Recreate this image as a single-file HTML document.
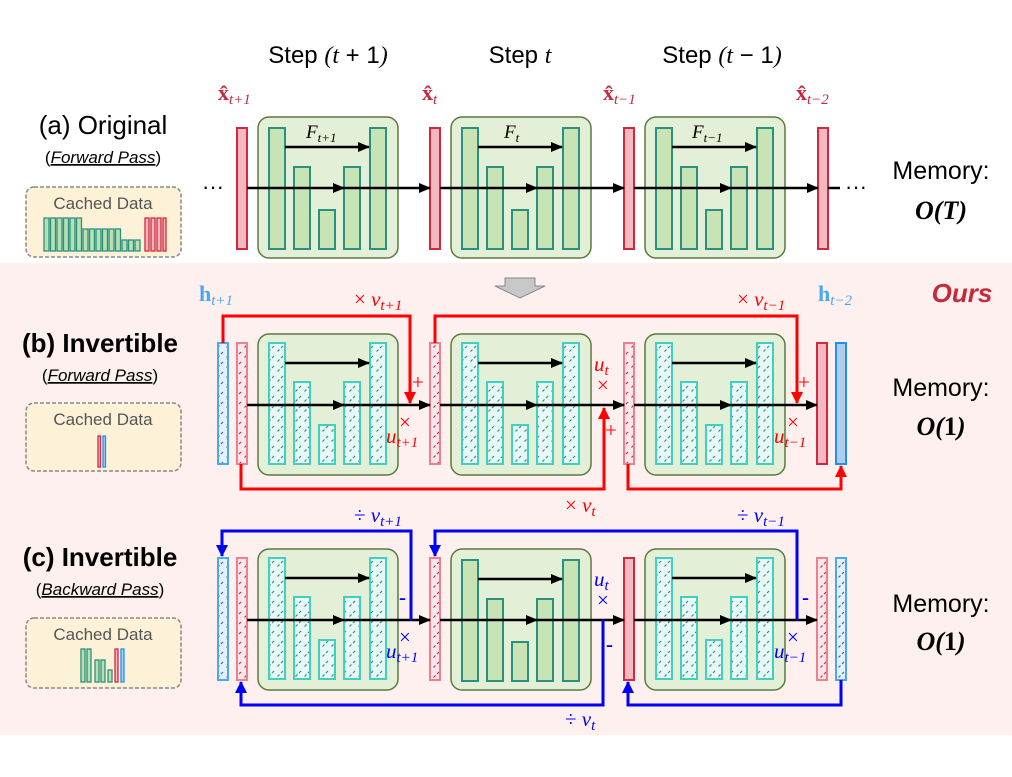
<!DOCTYPE html>
<html><head><meta charset="utf-8"><style>
html,body{margin:0;padding:0;background:#fff}
svg{display:block}
.s{font-family:"Liberation Sans",sans-serif}
.m{font-family:"Liberation Serif","DejaVu Serif",serif;font-style:italic}
</style></head><body>
<svg width="1012" height="777" viewBox="0 0 1012 777" xmlns="http://www.w3.org/2000/svg">
<defs>
<pattern id="hT" width="9" height="10" patternUnits="userSpaceOnUse"><rect width="9" height="10" fill="#e8f8f6"/><path d="M1.5,7.5 L3.5,5.5 M5,4 L7,2" stroke="#2a9080" stroke-width="1.2"/></pattern>
<pattern id="hR" width="9" height="10" patternUnits="userSpaceOnUse"><rect width="9" height="10" fill="#fbe8ec"/><path d="M1.5,7.5 L3.5,5.5 M5,4 L7,2" stroke="#d02840" stroke-width="1.2"/></pattern>
<pattern id="hB" width="9" height="10" patternUnits="userSpaceOnUse"><rect width="9" height="10" fill="#e8f0fb"/><path d="M1.5,7.5 L3.5,5.5 M5,4 L7,2" stroke="#1a70c0" stroke-width="1.2"/></pattern>
<marker id="ak" markerWidth="12" markerHeight="10" refX="11" refY="5" orient="auto" markerUnits="userSpaceOnUse"><path d="M0,0 L12,5 L0,10 z" fill="#000"/></marker>
<marker id="ar" markerWidth="12" markerHeight="12" refX="11" refY="6" orient="auto" markerUnits="userSpaceOnUse"><path d="M0,0 L12,6 L0,12 z" fill="#ff0000"/></marker>
<marker id="ab" markerWidth="12" markerHeight="12" refX="11" refY="6" orient="auto" markerUnits="userSpaceOnUse"><path d="M0,0 L12,6 L0,12 z" fill="#0000ff"/></marker>
<g id="blkS">
<rect x="0" y="0" width="140" height="141" rx="11" fill="#e3efd6" stroke="#5a7a3e" stroke-width="1.5"/>
<g fill="#c9e4b4" stroke="#2a9080" stroke-width="2">
<rect x="11" y="11" width="16" height="121"/><rect x="36" y="50" width="16" height="82"/><rect x="61" y="93" width="16" height="39"/><rect x="86" y="50" width="16" height="82"/><rect x="112" y="11" width="16" height="121"/>
</g>
<line x1="27" y1="30" x2="111" y2="30" stroke="#000" stroke-width="2.5" marker-end="url(#ak)"/>
</g>
<g id="blkH">
<rect x="0" y="0" width="140" height="141" rx="11" fill="#e3efd6" stroke="#5a7a3e" stroke-width="1.5"/>
<g fill="url(#hT)" stroke="#40d0c0" stroke-width="2">
<rect x="11" y="9" width="16" height="121"/><rect x="36" y="48" width="16" height="82"/><rect x="61" y="91" width="16" height="39"/><rect x="86" y="48" width="16" height="82"/><rect x="112" y="9" width="16" height="121"/>
</g>
<line x1="27" y1="29" x2="111" y2="29" stroke="#000" stroke-width="2.5" marker-end="url(#ak)"/>
</g>
</defs>

<rect x="0" y="263" width="1012" height="472" fill="#fdf0ee"/>

<g class="s" font-size="24" fill="#000" text-anchor="middle">
<text x="328" y="63">Step <tspan class="m">(t</tspan> + 1<tspan class="m">)</tspan></text>
<text x="520" y="63">Step <tspan class="m">t</tspan></text>
<text x="722" y="63">Step <tspan class="m">(t</tspan> − 1<tspan class="m">)</tspan></text>
</g>
<g font-family="Liberation Serif,serif" fill="#c8283c" font-size="22" font-weight="bold">
<text x="218" y="100">x̂<tspan class="m" font-weight="normal" font-size="15" dy="4">t+1</tspan></text>
<text x="422" y="100">x̂<tspan class="m" font-weight="normal" font-size="15" dy="4">t</tspan></text>
<text x="603" y="100">x̂<tspan class="m" font-weight="normal" font-size="15" dy="4">t−1</tspan></text>
<text x="796" y="100">x̂<tspan class="m" font-weight="normal" font-size="15" dy="4">t−2</tspan></text>
</g>

<g class="s" fill="#000" text-anchor="middle">
<text x="103" y="134" font-size="26">(a) Original</text>
<text x="103" y="163" font-size="17">(<tspan font-style="italic" text-decoration="underline">Forward Pass</tspan>)</text>
<text x="100" y="352" font-size="26" font-weight="bold">(b) Invertible</text>
<text x="100" y="381" font-size="17">(<tspan font-style="italic" text-decoration="underline">Forward Pass</tspan>)</text>
<text x="100" y="566" font-size="26" font-weight="bold">(c) Invertible</text>
<text x="100" y="595" font-size="17">(<tspan font-style="italic" text-decoration="underline">Backward Pass</tspan>)</text>
</g>

<g fill="#fdf2d8" stroke="#888" stroke-width="1.5" stroke-dasharray="4,2">
<rect x="26" y="187" width="155" height="70" rx="8"/>
<rect x="26" y="403" width="155" height="68" rx="8"/>
<rect x="26" y="618" width="155" height="70" rx="8"/>
</g>
<g class="s" font-size="17" fill="#555" text-anchor="middle">
<text x="103" y="209">Cached Data</text>
<text x="103" y="425">Cached Data</text>
<text x="103" y="640">Cached Data</text>
</g>
<g fill="#b8e0b0" stroke="#2a9080" stroke-width="1.3">
<rect x="44" y="218" width="5" height="33"/><rect x="50.5" y="218" width="5" height="33"/><rect x="57" y="218" width="5" height="33"/><rect x="63.5" y="218" width="5" height="33"/><rect x="70" y="218" width="5" height="33"/><rect x="76.5" y="218" width="5" height="33"/>
<rect x="83" y="229" width="5" height="22"/><rect x="89.5" y="229" width="5" height="22"/><rect x="96" y="229" width="5" height="22"/><rect x="102.5" y="229" width="5" height="22"/><rect x="109" y="229" width="5" height="22"/><rect x="115.5" y="229" width="5" height="22"/>
<rect x="122" y="240" width="5" height="11"/><rect x="128.5" y="240" width="5" height="11"/><rect x="135" y="240" width="5" height="11"/>
<rect x="81" y="649" width="4" height="33"/><rect x="87" y="649" width="4" height="33"/><rect x="95" y="660" width="4" height="22"/><rect x="101" y="660" width="4" height="22"/><rect x="108" y="670" width="4" height="12"/>
</g>
<g fill="#f4b8c0" stroke="#d0283c" stroke-width="1.3">
<rect x="145" y="218" width="4" height="33"/><rect x="151" y="218" width="4" height="33"/><rect x="157" y="218" width="4" height="33"/><rect x="163" y="218" width="3" height="33"/>
<rect x="98" y="436" width="2.5" height="31"/><rect x="115" y="649" width="3" height="33"/>
</g>
<g fill="#b0ccee" stroke="#2090f0" stroke-width="1.3">
<rect x="103" y="436" width="2.5" height="31"/><rect x="121" y="649" width="3" height="33"/>
</g>

<use href="#blkS" x="258" y="117"/>
<use href="#blkS" x="451" y="117"/>
<use href="#blkS" x="645" y="117"/>
<g fill="#f4b8c0" stroke="#d0283c" stroke-width="2">
<rect x="237" y="128" width="10" height="121"/><rect x="430" y="128" width="10" height="121"/><rect x="624" y="128" width="10" height="121"/><rect x="818" y="128" width="10" height="121"/>
</g>
<g stroke="#000" stroke-width="2.5" marker-end="url(#ak)">
<line x1="247" y1="188" x2="344" y2="188"/><line x1="344" y1="188" x2="430" y2="188"/>
<line x1="440" y1="188" x2="537" y2="188"/><line x1="537" y1="188" x2="624" y2="188"/>
<line x1="634" y1="188" x2="731" y2="188"/><line x1="731" y1="188" x2="818" y2="188"/>
</g>
<line x1="828" y1="188" x2="840" y2="188" stroke="#000" stroke-width="2.5"/>
<g class="s" font-size="22"><text x="202" y="194">···</text><text x="845" y="194">···</text></g>
<g class="m" font-size="19" fill="#000">
<text x="306" y="138">F<tspan font-size="13" dy="4">t+1</tspan></text>
<text x="504" y="138">F<tspan font-size="13" dy="4">t</tspan></text>
<text x="692" y="138">F<tspan font-size="13" dy="4">t−1</tspan></text>
</g>

<g class="s" font-size="25" fill="#000" text-anchor="middle">
<text x="941" y="179">Memory:</text>
<text x="941" y="396">Memory:</text>
<text x="941" y="612">Memory:</text>
</g>
<g font-family="Liberation Serif,serif" font-size="26" font-weight="bold" font-style="italic" fill="#000" text-anchor="middle">
<text x="941" y="219">O(T)</text>
<text x="941" y="435">O(<tspan font-style="normal">1</tspan>)</text>
<text x="941" y="650">O(<tspan font-style="normal">1</tspan>)</text>
</g>
<text x="962" y="302" class="s" font-size="26" font-weight="bold" font-style="italic" fill="#c8283c" text-anchor="middle">Ours</text>

<path d="M505,278 H535 V286 H545 L520,298 L495,286 H505 Z" fill="#c8c8c8" stroke="#888" stroke-width="1"/>

<use href="#blkH" x="258" y="334"/>
<use href="#blkH" x="451" y="334"/>
<use href="#blkH" x="645" y="334"/>
<rect x="218" y="343" width="10" height="121" fill="url(#hB)" stroke="#4aa8f0" stroke-width="2"/>
<g fill="url(#hR)" stroke="#ee7f8f" stroke-width="2">
<rect x="237" y="343" width="10" height="121"/><rect x="430" y="343" width="10" height="121"/><rect x="624" y="343" width="10" height="121"/>
</g>
<rect x="817" y="343" width="10" height="121" fill="#f4b8c0" stroke="#d0283c" stroke-width="2"/>
<rect x="836" y="343" width="10" height="121" fill="#b0ccee" stroke="#2090f0" stroke-width="2"/>
<g stroke="#000" stroke-width="2.5" marker-end="url(#ak)">
<line x1="247" y1="405" x2="344" y2="405"/><line x1="344" y1="405" x2="430" y2="405"/>
<line x1="440" y1="405" x2="537" y2="405"/><line x1="537" y1="405" x2="624" y2="405"/>
<line x1="634" y1="405" x2="731" y2="405"/><line x1="731" y1="405" x2="817" y2="405"/>
</g>
<g fill="none" stroke="#ff0000" stroke-width="3" marker-end="url(#ar)">
<path d="M223,343 V316 H410 V403"/>
<path d="M435,343 V316 H797 V403"/>
<path d="M241,464 V489 H604 V408"/>
<path d="M628,464 V489 H841 V466"/>
</g>
<g font-family="Liberation Serif,serif" fill="#4aa8f0" font-size="22" font-weight="bold">
<text x="199" y="301">h<tspan class="m" font-weight="normal" font-size="15" dy="4">t+1</tspan></text>
<text x="818" y="301">h<tspan class="m" font-weight="normal" font-size="15" dy="4">t−2</tspan></text>
</g>
<g class="m" fill="#ff0000" font-size="21">
<text x="354" y="306"><tspan font-style="normal">×</tspan> v<tspan font-size="15" dy="4">t+1</tspan></text>
<text x="737" y="306"><tspan font-style="normal">×</tspan> v<tspan font-size="15" dy="4">t−1</tspan></text>
<text x="565" y="512"><tspan font-style="normal">×</tspan> v<tspan font-size="15" dy="4">t</tspan></text>
<text x="412" y="389" font-style="normal">+</text>
<text x="399" y="429" font-style="normal">×</text>
<text x="386" y="443">u<tspan font-size="15" dy="4">t+1</tspan></text>
<text x="594" y="371">u<tspan font-size="15" dy="4">t</tspan></text>
<text x="597" y="392" font-style="normal">×</text>
<text x="605" y="437" font-style="normal">+</text>
<text x="798" y="389" font-style="normal">+</text>
<text x="787" y="429" font-style="normal">×</text>
<text x="774" y="443">u<tspan font-size="15" dy="4">t−1</tspan></text>
</g>

<use href="#blkH" x="258" y="549"/>
<use href="#blkS" x="451" y="549"/>
<use href="#blkH" x="645" y="549"/>
<rect x="218" y="558" width="10" height="122" fill="url(#hB)" stroke="#4aa8f0" stroke-width="2"/>
<g fill="url(#hR)" stroke="#ee7f8f" stroke-width="2">
<rect x="237" y="558" width="10" height="122"/><rect x="430" y="558" width="10" height="122"/><rect x="817" y="558" width="10" height="122"/>
</g>
<rect x="624" y="558" width="10" height="122" fill="#f4b8c0" stroke="#d0283c" stroke-width="2"/>
<rect x="836" y="558" width="10" height="122" fill="url(#hB)" stroke="#4aa8f0" stroke-width="2"/>
<g stroke="#000" stroke-width="2.5" marker-end="url(#ak)">
<line x1="247" y1="620" x2="344" y2="620"/><line x1="344" y1="620" x2="430" y2="620"/>
<line x1="440" y1="620" x2="537" y2="620"/><line x1="537" y1="620" x2="624" y2="620"/>
<line x1="634" y1="620" x2="731" y2="620"/><line x1="731" y1="620" x2="817" y2="620"/>
</g>
<g fill="none" stroke="#0000ff" stroke-width="3" marker-end="url(#ab)">
<path d="M411,620 V531 H222 V556"/>
<path d="M797,620 V531 H435 V556"/>
<path d="M603,620 V705 H241 V682"/>
<path d="M841,680 V705 H628 V682"/>
</g>
<g class="m" fill="#0000ff" font-size="21">
<text x="354" y="522"><tspan font-style="normal">÷</tspan> v<tspan font-size="15" dy="4">t+1</tspan></text>
<text x="737" y="522"><tspan font-style="normal">÷</tspan> v<tspan font-size="15" dy="4">t−1</tspan></text>
<text x="565" y="726"><tspan font-style="normal">÷</tspan> v<tspan font-size="15" dy="4">t</tspan></text>
<text x="399" y="604" font-style="normal" font-weight="bold">-</text>
<text x="399" y="644" font-style="normal">×</text>
<text x="386" y="658">u<tspan font-size="15" dy="4">t+1</tspan></text>
<text x="594" y="586">u<tspan font-size="15" dy="4">t</tspan></text>
<text x="597" y="607" font-style="normal">×</text>
<text x="606" y="651" font-style="normal" font-weight="bold">-</text>
<text x="802" y="604" font-style="normal" font-weight="bold">-</text>
<text x="787" y="644" font-style="normal">×</text>
<text x="774" y="658">u<tspan font-size="15" dy="4">t−1</tspan></text>
</g>
</svg>
</body></html>
